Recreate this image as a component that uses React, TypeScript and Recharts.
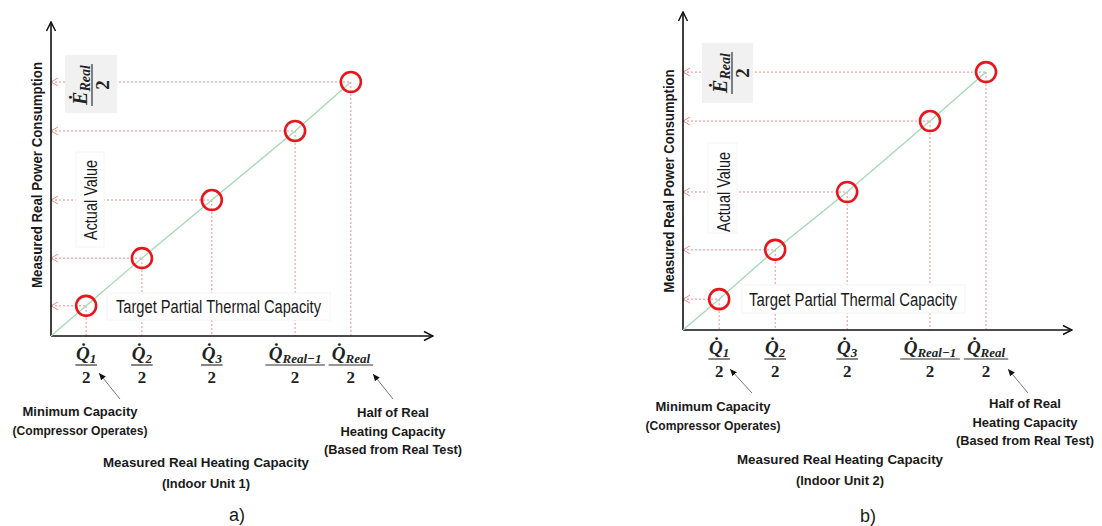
import React from 'react'
import { ScatterChart, Scatter, XAxis, YAxis, ReferenceLine } from 'recharts'

// x-axis labels: Q̇_sub / 2
const tickSubs = ['1', '2', '3', 'Real\u22121', 'Real']

// panel a) indoor unit 1 (axis units 0..10)
const capA = [0.92, 2.38, 4.21, 6.39, 7.85]
const powA = [0.96, 2.48, 4.33, 6.53, 8.09]
// panel b) indoor unit 2
const capB = [0.93, 2.37, 4.22, 6.35, 7.79]
const powB = [0.97, 2.52, 4.34, 6.57, 8.11]

const NARROW = '"Liberation Sans Narrow", "Arial Narrow", "Liberation Sans", Arial, sans-serif'
const MATH = '"Liberation Serif", "DejaVu Serif", serif'
const RED = '#e8161c'
const GUIDE = '#f08a8a'

const FracTick = (props: any) => {
  const { x, y, index } = props
  const sub = tickSubs[index] ?? ''
  const w = 14 + sub.length * 7.6
  return (
    <g transform={`translate(${x},${y})`}>
      <text y={24} textAnchor="middle" fontFamily={MATH} fontWeight="bold" fontStyle="italic" fontSize={19} fill="#222">
        {'Q\u0307'}
        <tspan fontSize={13} dy={3}>{sub}</tspan>
      </text>
      <line x1={-w / 2} x2={w / 2} y1={29} y2={29} stroke="#333" strokeWidth={1.2} />
      <text y={47} textAnchor="middle" fontFamily={MATH} fontWeight="bold" fontSize={17} fill="#222">2</text>
    </g>
  )
}

const Ring = (props: any) => {
  const { cx, cy } = props
  return <circle cx={cx} cy={cy} r={10} fill="none" stroke={RED} strokeWidth={2.6} />
}
const NoDot = () => <g />

type Margin = { top: number; right: number; bottom: number; left: number }

const Panel = ({ xs, ys, left, margin }: { xs: number[]; ys: number[]; left: number; margin: Margin }) => {
  const pts = xs.map((x, i) => ({ x, y: ys[i] }))
  const line = [{ x: 0, y: 0 }, ...pts]
  return (
    <div style={{ position: 'absolute', left, top: 0 }}>
      <ScatterChart width={551} height={526} margin={margin}>
        <XAxis
          type="number"
          dataKey="x"
          domain={[0, 10]}
          ticks={xs}
          interval={0}
          tickLine={false}
          tickSize={0}
          tickMargin={0}
          tick={<FracTick />}
          axisLine={{ stroke: '#111', strokeWidth: 1.6, markerEnd: 'url(#axArrow)' }}
          height={60}
        />
        <YAxis
          type="number"
          dataKey="y"
          domain={[0, 10]}
          tick={false}
          tickLine={false}
          width={31}
          axisLine={{ stroke: '#111', strokeWidth: 1.6, markerStart: 'url(#axArrow)' }}
        />
        {pts.map((p, i) => (
          <ReferenceLine
            key={'h' + i}
            segment={[{ x: 0, y: p.y }, { x: p.x, y: p.y }]}
            stroke={GUIDE}
            strokeWidth={1}
            strokeDasharray="2 2"
            markerStart="url(#guideArrow)"
          />
        ))}
        {pts.map((p, i) => (
          <ReferenceLine
            key={'v' + i}
            segment={[{ x: p.x, y: p.y }, { x: p.x, y: 0 }]}
            stroke={GUIDE}
            strokeWidth={1}
            strokeDasharray="2 2"
          />
        ))}
        <Scatter data={line} line={{ stroke: '#a3d9b1', strokeWidth: 1.3 }} shape={<NoDot />} isAnimationActive={false} />
        <Scatter data={pts} shape={<Ring />} isAnimationActive={false} />
      </ScatterChart>
    </div>
  )
}

// condensed look: fixed widths squeeze the glyphs like the narrow face in the original
const Lines = ({ cx, y0, lines, widths, step, size = 13.5, bold = true, family = NARROW }: any) => (
  <text textAnchor="middle" fontFamily={family} fontWeight={bold ? 'bold' : 'normal'} fontSize={size} fill="#1a1a1a">
    {lines.map((t: string, i: number) => (
      <tspan
        key={i}
        x={cx}
        y={y0 + i * step}
        textLength={widths ? widths[i] : undefined}
        lengthAdjust="spacingAndGlyphs"
      >
        {t}
      </tspan>
    ))}
  </text>
)

const Notes = ({ n }: { n: any }) => (
  <g>
    {/* y axis title */}
    <text
      transform={`translate(${n.ylab[0]},${n.ylab[1]}) rotate(-90)`}
      textAnchor="middle"
      fontFamily={NARROW}
      fontWeight="bold"
      fontSize={15}
      fill="#1a1a1a"
      textLength={n.ylab[2]}
      lengthAdjust="spacingAndGlyphs"
    >
      Measured Real Power Consumption
    </text>
    {/* E_real / 2 box */}
    <rect x={n.ebox[0]} y={n.ebox[1]} width={n.ebox[2]} height={n.ebox[3]} fill="#f1f1f1" />
    <g transform={`translate(${n.ebar[0]},${n.ebar[1]}) rotate(-90)`}>
      <text y={-5} textAnchor="middle" fontFamily={MATH} fontWeight="bold" fontStyle="italic" fontSize={20} fill="#222">
        {'E\u0307'}
        <tspan fontSize={14} dy={3}>Real</tspan>
      </text>
      <line x1={-21} x2={21} y1={0} y2={0} stroke="#333" strokeWidth={1.2} />
      <text y={17} textAnchor="middle" fontFamily={MATH} fontWeight="bold" fontSize={19} fill="#222">2</text>
    </g>
    {/* Actual value */}
    <rect x={n.abox[0]} y={n.abox[1]} width={n.abox[2]} height={n.abox[3]} fill="#fff" stroke="#f4f4f4" />
    <text
      transform={`translate(${n.atext[0]},${n.atext[1]}) rotate(-90)`}
      textAnchor="middle"
      dominantBaseline="central"
      fontFamily={NARROW}
      fontSize={18}
      fill="#1a1a1a"
      textLength={n.atext[2]}
      lengthAdjust="spacingAndGlyphs"
    >
      Actual Value
    </text>
    {/* target */}
    <rect x={n.tbox[0]} y={n.tbox[1]} width={n.tbox[2]} height={n.tbox[3]} fill="#fff" stroke="#f4f4f4" />
    <text
      x={n.ttext[0]}
      y={n.ttext[1]}
      fontFamily={NARROW}
      fontSize={18}
      fill="#1a1a1a"
      textLength={n.ttext[2]}
      lengthAdjust="spacingAndGlyphs"
    >
      Target Partial Thermal Capacity
    </text>
    {/* pointers */}
    <line x1={n.arL[0]} y1={n.arL[1]} x2={n.arL[2]} y2={n.arL[3]} stroke="#777" strokeWidth={1} markerEnd="url(#noteArrow)" />
    <line x1={n.arR[0]} y1={n.arR[1]} x2={n.arR[2]} y2={n.arR[3]} stroke="#777" strokeWidth={1} markerEnd="url(#noteArrow)" />
    <Lines cx={n.minT[0]} y0={n.minT[1]} step={19} widths={[115, 135]} lines={['Minimum Capacity', '(Compressor Operates)']} />
    <Lines
      cx={n.halfT[0]}
      y0={n.halfT[1]}
      step={18.5}
      widths={[72, 105, 138]}
      lines={['Half of Real', 'Heating Capacity', '(Based from Real Test)']}
    />
    <Lines cx={n.measT[0]} y0={n.measT[1]} step={21} widths={[206, 88]} lines={['Measured Real  Heating Capacity', n.unit]} />
    <Lines cx={n.cap[0]} y0={n.cap[1]} step={0} size={18} bold={false} family='"Liberation Sans", Arial, sans-serif' lines={[n.label]} />
  </g>
)

const notesA = {
  ylab: [42, 175, 226],
  ebox: [65, 55, 52, 58],
  ebar: [92, 85],
  abox: [76, 152, 28, 95],
  atext: [91, 200, 80],
  tbox: [107, 293, 223, 27],
  ttext: [116, 313, 205],
  arL: [120, 399, 99, 373],
  arR: [393, 399, 373, 374],
  minT: [80, 416],
  halfT: [393, 417],
  measT: [206, 467],
  unit: '(Indoor Unit 1)',
  cap: [237, 521],
  label: 'a)',
}

const notesB = {
  ylab: [674, 181, 223],
  ebox: [702, 43, 51, 60],
  ebar: [732, 73],
  abox: [708, 143, 29, 90],
  atext: [724, 192, 80],
  tbox: [742, 285, 223, 28],
  ttext: [749, 306, 208],
  arL: [752, 393, 730, 369],
  arR: [1028, 393, 1008, 369],
  minT: [713, 411],
  halfT: [1025, 408],
  measT: [840, 464],
  unit: '(Indoor Unit 2)',
  cap: [868, 522],
  label: 'b)',
}

export default function App() {
  return (
    <div style={{ position: 'absolute', left: 0, top: 0, width: 1102, height: 526, background: '#fff' }}>
      <Panel xs={capA} ys={powA} left={0} margin={{ top: 22, right: 118, bottom: 130, left: 20 }} />
      <Panel xs={capB} ys={powB} left={551} margin={{ top: 12, right: 30, bottom: 136, left: 101 }} />
      <svg width={1102} height={526} style={{ position: 'absolute', left: 0, top: 0, pointerEvents: 'none' }}>
        <defs>
          <marker id="axArrow" markerUnits="userSpaceOnUse" markerWidth={12} markerHeight={12} viewBox="0 0 12 12" refX={11} refY={6} orient="auto-start-reverse">
            <path d="M2,1.5 L11,6 L2,10.5" fill="none" stroke="#111" strokeWidth={1.5} />
          </marker>
          <marker id="guideArrow" markerUnits="userSpaceOnUse" markerWidth={10} markerHeight={10} viewBox="0 0 10 10" refX={8} refY={5} orient="auto-start-reverse">
            <path d="M1,1 L8,5 L1,9" fill="none" stroke={GUIDE} strokeWidth={1} />
          </marker>
          <marker id="noteArrow" markerUnits="userSpaceOnUse" markerWidth={8} markerHeight={8} viewBox="0 0 8 8" refX={7} refY={4} orient="auto">
            <path d="M0,1 L7,4 L0,7 z" fill="#111" />
          </marker>
        </defs>
        <Notes n={notesA} />
        <Notes n={notesB} />
      </svg>
    </div>
  )
}
